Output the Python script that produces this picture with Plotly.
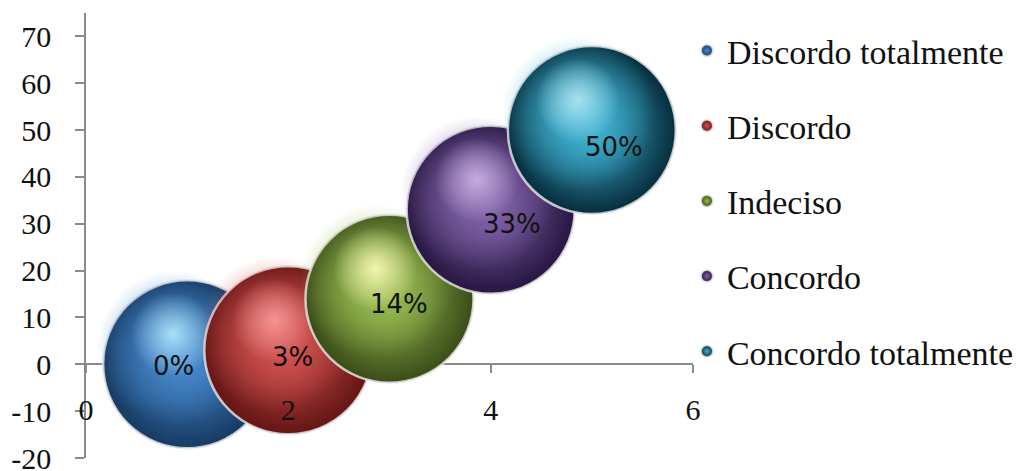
import plotly.graph_objects as go

# ---------------- data ----------------
categories = ["Discordo totalmente", "Discordo", "Indeciso", "Concordo", "Concordo totalmente"]
x_vals = [1, 2, 3, 4, 5]
y_vals = [0, 3, 14, 33, 50]
pct_labels = ["0%", "3%", "14%", "33%", "50%"]
x_tick_vals = [0, 2, 4, 6]
y_tick_vals = [-20, -10, 0, 10, 20, 30, 40, 50, 60, 70]
y_tick_text = ["-20", "-10", "0", "10", "20", "30", "40", "50", "60", "70"]

# ---------------- style ----------------
W, H = 1016, 471
M = dict(l=86, r=323, t=13, b=13, pad=0, autoexpand=False)
X_RANGE = [0, 6]
Y_RANGE = [-20, 75]
plot_w = W - M["l"] - M["r"]
plot_h = H - M["t"] - M["b"]
px_x = plot_w / (X_RANGE[1] - X_RANGE[0])
px_y = plot_h / (Y_RANGE[1] - Y_RANGE[0])

BUBBLE = 168
mid_c = ["rgb(70,136,204)", "rgb(208,82,80)", "rgb(150,186,80)", "rgb(128,98,168)", "rgb(62,178,210)"]
mid_t = ["rgba(70,136,204,0)", "rgba(208,82,80,0)", "rgba(150,186,80,0)", "rgba(128,98,168,0)", "rgba(62,178,210,0)"]
dark_c = ["rgb(22,58,98)", "rgb(100,20,20)", "rgb(58,76,24)", "rgb(38,22,64)", "rgb(6,45,60)"]
light_c = ["rgba(175,228,250,0.95)", "rgba(248,155,155,0.9)", "rgba(248,248,180,0.95)", "rgba(205,180,228,0.9)", "rgba(180,232,242,0.9)"]
light_t = ["rgba(175,228,250,0)", "rgba(248,155,155,0)", "rgba(248,248,180,0)", "rgba(205,180,228,0)", "rgba(180,232,242,0)"]
label_shift = [(-14, -2), (4, -7), (9, -5), (21, -14), (22, -17)]  # pixel shifts (x, y-up)

SERIF = "Liberation Serif, Times New Roman, serif"
SANS = "DejaVu Sans, Verdana, sans-serif"
AXIS_C = "#8a8a8a"

fig = go.Figure()

for i, name in enumerate(categories):
    xs, ys = [x_vals[i]], [y_vals[i]]
    # base sphere: radial gradient, dark at the rim
    fig.add_trace(go.Scatter(
        x=xs, y=ys, mode="markers", name=name, legendgroup=name,
        marker=dict(size=BUBBLE, sizemode="diameter", color=dark_c[i],
                    gradient=dict(type="radial", color=mid_c[i]),
                    line=dict(color="rgba(235,235,235,0.8)", width=2.5)),
        hoverinfo="skip", showlegend=True))
    # body fill (shifted up-left so lower-right stays darker)
    fig.add_trace(go.Scatter(
        x=[v - 13 / px_x for v in xs], y=[v + 17 / px_y for v in ys], mode="markers",
        marker=dict(size=154, color=mid_t[i], gradient=dict(type="radial", color=mid_c[i]), line=dict(width=0)),
        hoverinfo="skip", showlegend=False, legendgroup=name))
    # highlight
    fig.add_trace(go.Scatter(
        x=[v - 14 / px_x for v in xs], y=[v + 30 / px_y for v in ys], mode="markers",
        marker=dict(size=84, color=light_t[i], gradient=dict(type="radial", color=light_c[i]), line=dict(width=0)),
        hoverinfo="skip", showlegend=False, legendgroup=name))

# invisible trace so the label axis (x2) exists
fig.add_trace(go.Scatter(x=x_vals, y=y_vals, xaxis="x2", mode="markers",
                         marker=dict(size=1, opacity=0), hoverinfo="skip", showlegend=False))

for i, t in enumerate(pct_labels):
    fig.add_annotation(x=x_vals[i], y=y_vals[i], text=t, showarrow=False,
                       xshift=label_shift[i][0], yshift=label_shift[i][1],
                       font=dict(family=SANS, size=26, color="#111"))

fig.update_layout(
    width=W, height=H, margin=M,
    paper_bgcolor="white", plot_bgcolor="white",
    showlegend=True,
    legend=dict(x=0.99, xanchor="left", y=0.98, yanchor="top",
                font=dict(family=SERIF, size=34, color="#111"),
                itemsizing="constant", tracegroupgap=28, traceorder="grouped",
                bgcolor="rgba(0,0,0,0)"),
    xaxis=dict(range=X_RANGE, anchor="free", position=(0 - Y_RANGE[0]) / (Y_RANGE[1] - Y_RANGE[0]),
               showline=True, linecolor=AXIS_C, linewidth=1.5, showgrid=False, zeroline=False,
               tickvals=x_tick_vals, ticks="outside", ticklen=8, tickcolor=AXIS_C, tickwidth=1.5,
               showticklabels=False, layer="below traces", fixedrange=True, automargin=False),
    xaxis2=dict(range=X_RANGE, matches="x", overlaying="x", anchor="free",
                position=(0 - Y_RANGE[0]) / (Y_RANGE[1] - Y_RANGE[0]),
                showline=False, showgrid=False, zeroline=False, ticks="",
                tickvals=x_tick_vals, ticktext=[str(v) for v in x_tick_vals],
                tickfont=dict(family=SERIF, size=30, color="#111"),
                ticklabelstandoff=25, layer="above traces", fixedrange=True, automargin=False),
    yaxis=dict(range=Y_RANGE, showline=True, linecolor=AXIS_C, linewidth=1.5,
               showgrid=False, zeroline=False,
               tickvals=y_tick_vals, ticktext=y_tick_text, ticks="outside", ticklen=9,
               tickcolor=AXIS_C, tickwidth=1.5,
               tickfont=dict(family=SERIF, size=30, color="#111"),
               ticklabelstandoff=18, ticklabeloverflow="allow", fixedrange=True, automargin=False),
)

fig.write_html("out.html")
